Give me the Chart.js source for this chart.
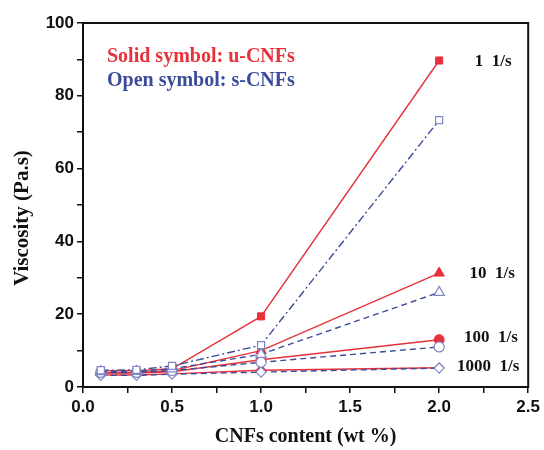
<!DOCTYPE html>
<html>
<head>
<meta charset="utf-8">
<script src="https://cdn.jsdelivr.net/npm/chart.js@4.4.0/dist/chart.umd.min.js"></script>
<style>
  html, body { margin: 0; padding: 0; background: #ffffff; }
  #wrap { width: 544px; height: 450px; }
</style>
</head>
<body>
<div id="wrap"><canvas id="chart" width="544" height="450"></canvas></div>
<script>
// CNF loading (wt %)
const contents = [0.1, 0.3, 0.5, 1.0, 2.0];

// Viscosity (Pa.s) at each shear rate; u = untreated CNFs (solid), s = surface-treated CNFs (open)
const u1    = [4.5, 4.5, 5.0, 19.4, 89.7];
const s1    = [4.6, 4.7, 5.8, 11.5, 73.3];
const u10   = [4.0, 4.0, 4.5, 10.0, 31.3];
const s10   = [4.2, 4.3, 5.0, 9.0, 26.0];
const u100  = [3.8, 3.8, 4.2, 7.5, 13.0];
const s100  = [4.0, 4.0, 4.5, 6.8, 11.0];
const u1000 = [3.3, 3.3, 3.6, 4.6, 5.3];
const s1000 = [3.2, 3.2, 3.5, 4.1, 5.2];

// Shear-rate labels placed beside the 2.0 wt % points
const rateLabels = ['1  1/s', '10  1/s', '100  1/s', '1000  1/s'];
const rateLabelY = [89.7, 31.3, 13.8, 6.0];
const rateLabelX = [2.2, 2.17, 2.14, 2.1];

const xTicks = [0.0, 0.5, 1.0, 1.5, 2.0, 2.5];
const yTicks = [0, 20, 40, 60, 80, 100];

const RED = '#e8313a';
const BLUE_LINE = '#3b4c9b';
const BLUE_MARK = '#7c88c8';
const INK = '#111';

function pts(arr) { return contents.map((x, i) => ({ x: x, y: arr[i] })); }

function solid(data, style) {
  return {
    data: pts(data), showLine: true,
    borderColor: RED, borderWidth: 1.4,
    pointStyle: style, pointRadius: style === 'triangle' ? 6 : 5,
    pointBackgroundColor: RED, pointBorderColor: RED, pointBorderWidth: 1,
    order: 2
  };
}
function open(data, style, dash) {
  return {
    data: pts(data), showLine: true,
    borderColor: BLUE_LINE, borderWidth: 1.4, borderDash: dash,
    pointStyle: style, pointRadius: style === 'triangle' ? 6 : 5,
    pointBackgroundColor: '#ffffff', pointBorderColor: BLUE_MARK, pointBorderWidth: 1.2,
    order: 1
  };
}

const serif = '"Liberation Serif", "Times New Roman", serif';

// Frame on all four sides, axis titles and the text annotations
const framePlugin = {
  id: 'frame',
  afterDatasetsDraw(chart) {
    const { ctx, chartArea: a, scales } = chart;
    ctx.save();
    ctx.strokeStyle = INK;
    ctx.lineWidth = 2;
    ctx.strokeRect(a.left, a.top, a.right - a.left, a.bottom - a.top);

    ctx.font = 'bold 17px ' + serif;
    ctx.fillStyle = INK;
    ctx.textBaseline = 'middle';
    ctx.textAlign = 'left';
    rateLabels.forEach((t, i) => {
      ctx.fillText(t, scales.x.getPixelForValue(rateLabelX[i]), scales.y.getPixelForValue(rateLabelY[i]) + 1);
    });

    ctx.font = 'bold 20px ' + serif;
    ctx.fillStyle = RED;
    ctx.fillText('Solid symbol: u-CNFs', a.left + 24, 57);
    ctx.fillStyle = BLUE_LINE;
    ctx.fillText('Open symbol: s-CNFs', a.left + 24, 81);

    // axis titles
    ctx.fillStyle = INK;
    ctx.textAlign = 'center';
    ctx.font = 'bold 20px ' + serif;
    ctx.fillText('CNFs content (wt %)', (a.left + a.right) / 2, 437);
    ctx.save();
    ctx.translate(22, 218);
    ctx.rotate(-Math.PI / 2);
    ctx.font = 'bold 21px ' + serif;
    ctx.fillText('Viscosity (Pa.s)', 0, 1);
    ctx.restore();
    ctx.restore();
  }
};

const tickFont = { family: '"Liberation Sans", Arial, sans-serif', size: 17, weight: 'bold' };

new Chart(document.getElementById('chart'), {
  type: 'scatter',
  data: {
    datasets: [
      solid(u1, 'rect'), open(s1, 'rect', [8, 3, 2, 3]),
      solid(u10, 'triangle'), open(s10, 'triangle', [6, 4]),
      solid(u100, 'circle'), open(s100, 'circle', [6, 4]),
      solid(u1000, 'rectRot'), open(s1000, 'rectRot', [6, 4])
    ]
  },
  options: {
    responsive: false,
    animation: false,
    devicePixelRatio: 1,
    layout: { padding: { top: 23, right: 14, left: 0, bottom: 0 } },
    plugins: { legend: { display: false }, tooltip: { enabled: false } },
    scales: {
      x: {
        type: 'linear', min: 0, max: 2.5,
        afterBuildTicks(scale) {
          const t = [];
          for (let v = 0; v <= 2.5001; v += 0.25) t.push({ value: Math.round(v * 100) / 100 });
          scale.ticks = t;
        },
        ticks: {
          font: tickFont, color: INK, padding: 4,
          callback: v => (xTicks.some(t => Math.abs(t - v) < 1e-6) ? v.toFixed(1) : '')
        },
        grid: { drawOnChartArea: false, tickLength: 6, color: INK, lineWidth: 1.5 },
        border: { display: false },
        afterFit(scale) { scale.height = 63; }
      },
      y: {
        type: 'linear', min: 0, max: 100,
        afterBuildTicks(scale) {
          const t = [];
          for (let v = 0; v <= 100; v += 10) t.push({ value: v });
          scale.ticks = t;
        },
        ticks: {
          font: tickFont, color: INK, padding: 3,
          callback: v => (yTicks.includes(v) ? String(v) : '')
        },
        grid: { drawOnChartArea: false, tickLength: 6, color: INK, lineWidth: 1.5 },
        border: { display: false },
        afterFit(scale) { scale.width = 83; }
      }
    }
  },
  plugins: [framePlugin]
});
</script>
</body>
</html>
